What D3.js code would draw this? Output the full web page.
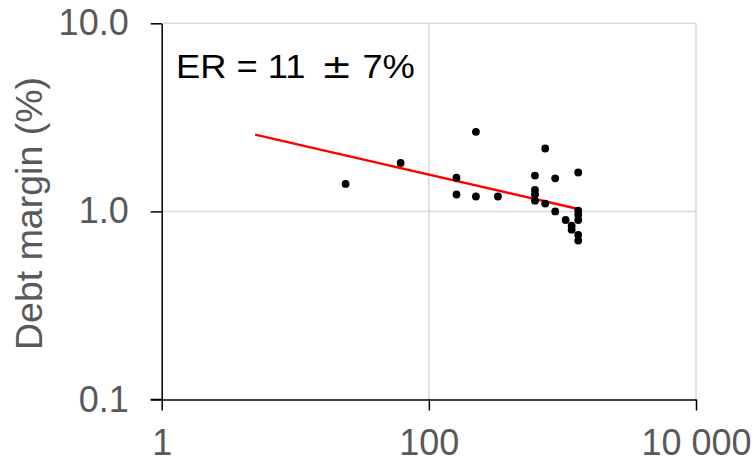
<!DOCTYPE html>
<html>
<head>
<meta charset="utf-8">
<script src="https://cdn.jsdelivr.net/npm/d3@7"></script>
<style>
    body { margin: 0; background: #fff; }
    svg text { font-family: "Liberation Sans", Arial, sans-serif; }
</style>
</head>
<body>
<svg id="chart" width="754" height="460"></svg>
<script>
// scatter points: x (log), debt margin % (log)
var pointX = [23.8, 61.5, 225, 161, 161, 225, 329, 623, 623, 623, 623, 743, 743, 883, 883,
    1057, 1172, 1172, 1313, 1313, 1313, 1313, 1313, 1313];
var pointY = [1.40, 1.81, 2.65, 1.51, 1.23, 1.20, 1.20, 1.55, 1.30, 1.23, 1.14, 2.16, 1.10, 1.50, 1.00,
    0.90, 0.84, 0.80, 1.61, 1.01, 0.96, 0.90, 0.75, 0.70];

// fitted line end points
var fitX = [5, 1313];
var fitY = [2.56, 1.03];

var xTicks = [1, 100, 10000];
var xTickLabels = ['1', '100', '10 000'];
var yTicks = [0.1, 1, 10];
var yTickLabels = ['0.1', '1.0', '10.0'];

var yTitle = 'Debt margin (%)';
var noteParts = ['ER = 11 ', '\u00b1', ' 7%'];

var svg = d3.select('#chart');

var plotLeft = 161.7, plotRight = 696, plotTop = 23.3, plotBottom = 399.5;

var x = d3.scaleLog().domain([1, 10000]).range([plotLeft, plotRight]);
var y = d3.scaleLog().domain([0.1, 10]).range([plotBottom, plotTop]);

// grid
svg.append('g')
    .selectAll('line')
    .data(xTicks.slice(1))
    .enter().append('line')
    .attr('x1', d => x(d)).attr('x2', d => x(d))
    .attr('y1', plotTop).attr('y2', plotBottom)
    .attr('stroke', '#d9d9d9').attr('stroke-width', 1.5);

svg.append('g')
    .selectAll('line')
    .data(yTicks.slice(1))
    .enter().append('line')
    .attr('x1', plotLeft).attr('x2', plotRight)
    .attr('y1', d => y(d)).attr('y2', d => y(d))
    .attr('stroke', '#d9d9d9').attr('stroke-width', 1.5);

// axes
var xAxis = svg.append('g')
    .attr('transform', 'translate(0,' + plotBottom + ')')
    .call(d3.axisBottom(x).tickValues(xTicks)
        .tickFormat((d, i) => xTickLabels[i])
        .tickSize(11).tickSizeOuter(0).tickPadding(19));

var yAxis = svg.append('g')
    .attr('transform', 'translate(' + plotLeft + ',0)')
    .call(d3.axisLeft(y).tickValues(yTicks)
        .tickFormat((d, i) => yTickLabels[i])
        .tickSize(11).tickSizeOuter(0).tickPadding(22));

[xAxis, yAxis].forEach(function (a) {
    a.select('.domain').attr('stroke', '#000').attr('stroke-width', 1.5);
    a.selectAll('.tick line').attr('stroke', '#000').attr('stroke-width', 1.5);
    a.selectAll('.tick text')
        .attr('fill', '#595959')
        .style('font-size', '36px');
});

// extend x axis to the left tick
svg.append('line')
    .attr('x1', plotLeft - 11).attr('x2', plotLeft)
    .attr('y1', plotBottom).attr('y2', plotBottom)
    .attr('stroke', '#000').attr('stroke-width', 1.5);

// y title
svg.append('text')
    .attr('transform', 'translate(42,213.5) rotate(-90)')
    .attr('text-anchor', 'middle')
    .attr('fill', '#595959')
    .style('font-size', '37.5px')
    .text(yTitle);

// fit line
svg.append('line')
    .attr('x1', x(fitX[0])).attr('y1', y(fitY[0]))
    .attr('x2', x(fitX[1])).attr('y2', y(fitY[1]))
    .attr('stroke', '#ff0000').attr('stroke-width', 2.5);

// points
svg.append('g')
    .selectAll('circle')
    .data(pointX)
    .enter().append('circle')
    .attr('cx', d => x(d))
    .attr('cy', (d, i) => y(pointY[i]))
    .attr('r', 3.9)
    .attr('fill', '#000');

// note
var noteText = svg.append('text')
    .attr('transform', 'translate(176,77.5) scale(1.1,1)')
    .attr('fill', '#000')
    .style('font-size', '33px')
    .style('white-space', 'pre');

noteText.append('tspan').text(noteParts[0]);
noteText.append('tspan')
    .attr('dx', 5)
    .style('font-family', '"DejaVu Sans"')
    .style('font-size', '34px')
    .text(noteParts[1]);
noteText.append('tspan').text(noteParts[2]);
</script>
</body>
</html>
